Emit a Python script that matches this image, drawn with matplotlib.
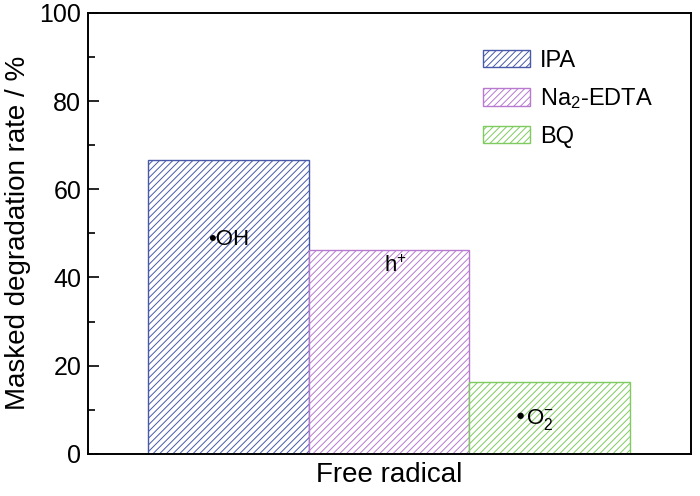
import matplotlib
matplotlib.use('Agg')
import matplotlib.pyplot as plt
from matplotlib.ticker import MultipleLocator

plt.rcParams['font.family'] = ['Liberation Sans', 'DejaVu Sans']
plt.rcParams['mathtext.default'] = 'regular'
plt.rcParams['hatch.linewidth'] = 0.7

# data
scavengers = ['IPA', 'Na$_2$-EDTA', 'BQ']
rates = [66.6, 46.3, 16.2]
radicals = ['\u2022OH', 'h$^{+}$', '\u2022O$_2^{-}$']
label_y = [48.5, 42.5, 7.8]
label_x = [0.0, 1.04, 1.90]
colors = ['#4759a8', '#b77ad0', '#7fcb5f']

fig, ax = plt.subplots(figsize=(7, 4.96), dpi=100)
fig.subplots_adjust(left=0.126, right=0.987, top=0.974, bottom=0.085)

for i in range(len(rates)):
    ax.bar(i, rates[i], width=1.0, facecolor='white', edgecolor=colors[i],
           hatch='/////', linewidth=1.0, label=scavengers[i])
    ax.text(label_x[i], label_y[i], radicals[i], fontsize=16, ha='center', va='center')

ax.set_xlim(-0.875, 2.88)
ax.set_ylim(0, 100)
ax.set_xticks([])
ax.yaxis.set_major_locator(MultipleLocator(20))
ax.yaxis.set_minor_locator(MultipleLocator(10))
ax.tick_params(axis='y', which='major', direction='in', length=8, width=1.2, labelsize=18, pad=5)
ax.tick_params(axis='y', which='minor', direction='in', length=5, width=1.2)
for s in ax.spines.values():
    s.set_linewidth(1.4)

ax.set_ylabel('Masked degradation rate / %', fontsize=20, labelpad=6)
ax.set_xlabel('Free radical', fontsize=20, labelpad=6)

leg = ax.legend(loc='upper left', bbox_to_anchor=(0.62, 0.965), frameon=False,
                fontsize=17, handlelength=2.0, handleheight=0.75, labelspacing=0.62,
                handletextpad=0.4)

fig.savefig('out.png', dpi=100)
